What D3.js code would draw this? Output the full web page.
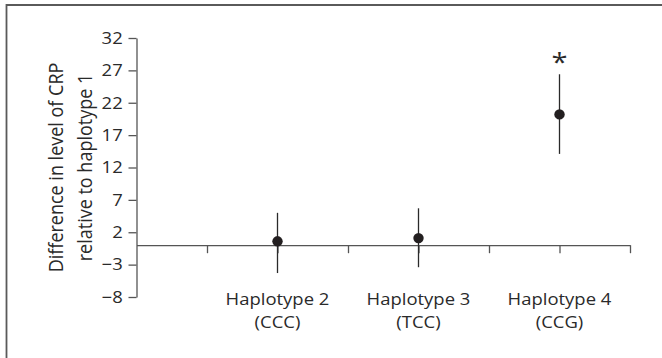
<!DOCTYPE html>
<html lang="en">
<head>
    <meta charset="UTF-8">
    <title>CRP difference by haplotype</title>
    <script src="https://d3js.org/d3.v7.min.js"></script>
    <style>
        body { margin: 0; background: #fff; }
        svg { display: block; }
        text { font-family: "Open Sans", sans-serif; fill: #2a2a2a; }
        .axis path, .axis line { stroke: #555; stroke-width: 1.3px; }
        .axis text { font-size: 16.5px; fill: #2a2a2a; }
        .bar { stroke: #2a2a2a; stroke-width: 1.3px; }
        .dot { fill: #231f20; }
    </style>
</head>
<body>
<svg></svg>
<script>
    // values (difference vs haplotype 1, with CI)
    const haplotypes = ["Haplotype 2", "Haplotype 3", "Haplotype 4"];
    const codes = ["(CCC)", "(TCC)", "(CCG)"];
    const means = [0.6, 1.1, 20.2];
    const lower = [-4.3, -3.4, 14.1];
    const upper = [5.0, 5.7, 26.4];
    const significant = [false, false, true];
    const yTicks = [-8, -3, 2, 7, 12, 17, 22, 27, 32];
    const yLabel = ["Difference in level of CRP", "relative to haplotype 1"];

    const width = 662, height = 358;
    const stretch = 1.12; // the original figure's type is a bit wide

    const svg = d3.select("svg").attr("width", width).attr("height", height);

    // frame (top and left edges visible)
    svg.append("path")
        .attr("d", `M6.5,${height} V5 H${width}`)
        .attr("fill", "none")
        .attr("stroke", "#5a5a5a")
        .attr("stroke-width", 1.8);

    const y = d3.scaleLinear().domain([-8, 32]).range([297, 38]);
    const x = d3.scaleLinear().domain([0, 3.5]).range([136.5, 630]);

    // y axis
    const yAxis = svg.append("g")
        .attr("class", "axis")
        .attr("transform", "translate(136.5,0)")
        .call(d3.axisLeft(y).tickValues(yTicks).tickSize(8).tickSizeOuter(0).tickPadding(4.3)
            .tickFormat(d => d < 0 ? "\u2212" + Math.abs(d) : d));
    yAxis.selectAll("text")
        .attr("transform", `scale(${stretch},1)`);

    // zero line with ticks
    const xTicks = d3.range(0.5, 3.51, 0.5);
    svg.append("g")
        .attr("class", "axis")
        .attr("transform", `translate(0,${y(0)})`)
        .call(d3.axisBottom(x).tickValues(xTicks).tickSize(8).tickSizeOuter(0).tickFormat(""));

    // category labels
    haplotypes.forEach((h, i) => {
        const g = svg.append("g")
            .attr("transform", `translate(${x(i + 1)},305) scale(${stretch},1)`);
        g.append("text").attr("text-anchor", "middle").style("font-size", "16.5px").text(h);
        g.append("text").attr("text-anchor", "middle").attr("y", 23).style("font-size", "16.5px").text(codes[i]);
    });

    // error bars and points
    const pts = svg.append("g");
    pts.selectAll("line")
        .data(means)
        .join("line")
        .attr("class", "bar")
        .attr("x1", (d, i) => x(i + 1))
        .attr("x2", (d, i) => x(i + 1))
        .attr("y1", (d, i) => y(lower[i]))
        .attr("y2", (d, i) => y(upper[i]));

    pts.selectAll("circle")
        .data(means)
        .join("circle")
        .attr("class", "dot")
        .attr("cx", (d, i) => x(i + 1))
        .attr("cy", d => y(d))
        .attr("r", 5.2);

    // significance marks
    svg.selectAll(".star")
        .data(means.map((d, i) => i).filter(i => significant[i]))
        .join("text")
        .attr("class", "star")
        .attr("text-anchor", "middle")
        .attr("transform", i => `translate(${x(i + 1)},${y(upper[i]) - 3}) scale(${stretch},1)`)
        .style("font-size", "26px")
        .text("*");

    // y axis title
    const title = svg.append("g")
        .attr("transform", `translate(0,167.5) scale(1.1,1) rotate(-90)`);
    title.selectAll("text")
        .data(yLabel)
        .join("text")
        .attr("text-anchor", "middle")
        .attr("y", (d, i) => 57.3 + i * 25.9)
        .style("font-size", "18px")
        .text(d => d);
</script>
</body>
</html>
